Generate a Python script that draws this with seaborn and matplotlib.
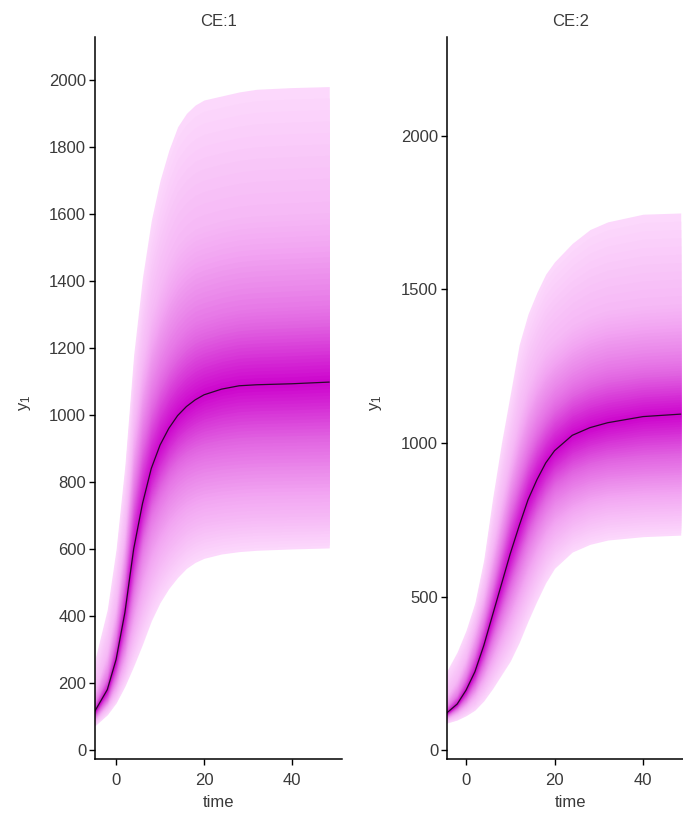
import numpy as np
import pandas as pd
import matplotlib
matplotlib.use("Agg")
import matplotlib.pyplot as plt
import seaborn as sns
from matplotlib.colors import LinearSegmentedColormap

# Simulated response y1 over time, summarised by percentiles for each CE group
time = [-5, -2, 0, 2, 4, 6, 8, 10, 12, 14, 16, 18, 20, 24, 28, 32, 40, 48.5]
levels = [0.05, 0.15, 0.30, 0.50, 0.70, 0.85, 0.95]

ce1_p05 = [70, 105, 140, 190, 250, 315, 385, 440, 482, 515, 542, 560, 572, 585, 592, 596, 600, 603]
ce1_p15 = [85, 130, 175, 245, 340, 430, 505, 560, 600, 630, 655, 670, 680, 688, 693, 696, 698, 700]
ce1_p30 = [98, 150, 220, 320, 470, 600, 690, 745, 790, 820, 840, 852, 860, 868, 873, 876, 878, 880]
ce1_p50 = [112, 180, 270, 410, 600, 735, 840, 910, 960, 998, 1025, 1045, 1060, 1077, 1087, 1090, 1093, 1098]
ce1_p70 = [135, 220, 340, 520, 780, 950, 1060, 1135, 1190, 1230, 1260, 1280, 1290, 1305, 1315, 1320, 1325, 1330]
ce1_p85 = [170, 290, 430, 650, 960, 1150, 1290, 1380, 1450, 1500, 1530, 1550, 1560, 1575, 1585, 1590, 1595, 1600]
ce1_p95 = [260, 420, 600, 850, 1180, 1410, 1580, 1700, 1790, 1860, 1900, 1925, 1940, 1952, 1964, 1972, 1977, 1980]

ce2_p05 = [85, 98, 112, 130, 160, 200, 245, 290, 350, 420, 485, 545, 592, 645, 670, 684, 695, 700]
ce2_p15 = [96, 118, 140, 170, 215, 270, 330, 390, 460, 530, 595, 650, 688, 736, 763, 777, 786, 790]
ce2_p30 = [105, 135, 165, 210, 275, 355, 435, 515, 595, 675, 738, 790, 830, 870, 893, 905, 915, 920]
ce2_p50 = [113, 150, 195, 255, 340, 440, 540, 640, 730, 815, 880, 935, 975, 1025, 1050, 1066, 1086, 1094]
ce2_p70 = [130, 180, 240, 320, 420, 540, 670, 800, 900, 990, 1060, 1110, 1150, 1200, 1230, 1248, 1263, 1270]
ce2_p85 = [160, 230, 300, 400, 510, 660, 810, 950, 1080, 1180, 1250, 1300, 1330, 1380, 1410, 1428, 1443, 1450]
ce2_p95 = [240, 320, 390, 480, 620, 820, 1000, 1160, 1320, 1420, 1490, 1550, 1590, 1650, 1695, 1720, 1745, 1749]

panel_titles = ["CE:1", "CE:2"]
panel_quantiles = [
    [ce1_p05, ce1_p15, ce1_p30, ce1_p50, ce1_p70, ce1_p85, ce1_p95],
    [ce2_p05, ce2_p15, ce2_p30, ce2_p50, ce2_p70, ce2_p85, ce2_p95],
]
panel_yticks = [list(range(0, 2001, 200)), list(range(0, 2001, 500))]
panel_ylims = [(-27, 2128), (-29, 2322)]
panel_xlims = [(-4.8, 51.4), (-4.3, 51.5)]
xticks = [0, 20, 40]

sns.set_style("ticks")
plt.rcParams["font.family"] = ["Liberation Sans", "DejaVu Sans"]
plt.rcParams["mathtext.default"] = "regular"

TEXT = "#3a3a3a"
FS = 12
fan_cmap = LinearSegmentedColormap.from_list(
    "fan", ["#fcd8fc", "#f2a6f2", "#e060e0", "#cc00cc"])


def draw_fan(ax, quantiles, n_shades=50):
    q = np.asarray(quantiles, dtype=float)
    t = np.asarray(time, dtype=float)
    halfs = np.linspace(0.45, 0.0, n_shades, endpoint=False)
    for d in halfs:
        lo = np.array([np.interp(0.5 - d, levels, q[:, i]) for i in range(len(t))])
        hi = np.array([np.interp(0.5 + d, levels, q[:, i]) for i in range(len(t))])
        ax.fill_between(t, lo, hi, color=fan_cmap(1 - d / 0.45), lw=0)


fig = plt.figure(figsize=(6.83, 8.17), dpi=100)
W, H = 683, 817
axes_px = [(95, 37, 247, 722), (447, 37, 247, 722)]
ylabel_x = [-0.25, -0.254]

for k in range(2):
    x0, y0, w, h = axes_px[k]
    ax = fig.add_axes([x0 / W, 1 - (y0 + h) / H, w / W, h / H])
    draw_fan(ax, panel_quantiles[k])
    med = pd.DataFrame({"time": time, "y1": panel_quantiles[k][3]})
    sns.lineplot(data=med, x="time", y="y1", ax=ax, color="#2a0a2a", lw=0.9)

    ax.set_xlim(*panel_xlims[k])
    ax.set_ylim(*panel_ylims[k])
    ax.set_xticks(xticks)
    ax.set_yticks(panel_yticks[k])
    ax.set_title(panel_titles[k], fontsize=FS, color=TEXT, pad=8)
    ax.set_xlabel("time", fontsize=FS, color=TEXT, labelpad=5)
    ax.set_ylabel("$y_1$", fontsize=FS, color=TEXT)
    ax.yaxis.set_label_coords(ylabel_x[k], 0.493)
    ax.tick_params(axis="both", direction="out", length=4.3, width=1,
                   labelsize=FS, labelcolor=TEXT, color="black")
    ax.tick_params(axis="x", pad=6)
    ax.tick_params(axis="y", pad=2)
    sns.despine(ax=ax)
    for s in ("left", "bottom"):
        ax.spines[s].set_linewidth(1.1)
        ax.spines[s].set_color("black")

fig.savefig("out.png", dpi=100)
